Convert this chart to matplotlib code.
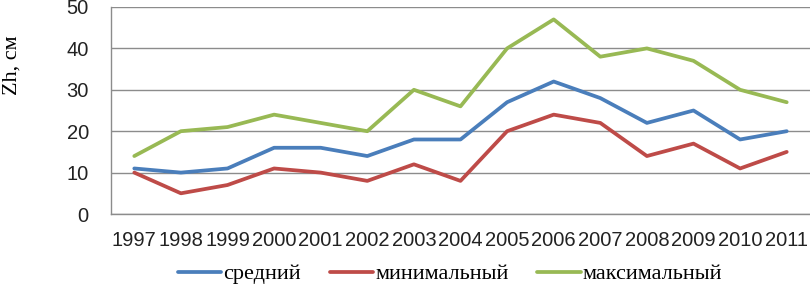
"""Zh (cm) by year: mean, minimum and maximum, 1997-2011."""
import matplotlib

matplotlib.use("Agg")
import matplotlib.pyplot as plt

YEARS = [str(y) for y in range(1997, 2012)]
MEAN = [11, 10, 11, 16, 16, 14, 18, 18, 27, 32, 28, 22, 25, 18, 20]
MIN = [10, 5, 7, 11, 10, 8, 12, 8, 20, 24, 22, 14, 17, 11, 15]
MAX = [14, 20, 21, 24, 22, 20, 30, 26, 40, 47, 38, 40, 37, 30, 27]

SERIES = [
    ("средний", MEAN, "#4a7ebb"),
    ("минимальный", MIN, "#be4b48"),
    ("максимальный", MAX, "#98b954"),
]

SANS = "Liberation Sans"
SERIF = "Liberation Serif"

fig = plt.figure(figsize=(8.1, 2.84), dpi=100)
ax = fig.add_axes([111 / 810, 1 - 214 / 284, 1 - 111 / 810, (214 - 7) / 284])

xs = range(len(YEARS))
for label, vals, color in SERIES:
    ax.plot(xs, vals, color=color, lw=2.7, label=label, solid_capstyle="round",
            solid_joinstyle="round")

ax.set_xlim(-0.5, len(YEARS) - 0.5)
ax.set_ylim(0, 50)
ax.set_yticks(range(0, 51, 10))
ax.set_xticks(list(xs))
ax.set_xticklabels(YEARS, fontfamily=SANS, fontsize=14.5)
for t in ax.get_yticklabels():
    t.set_fontfamily(SANS)
    t.set_fontsize(14.5)
ax.tick_params(axis="both", length=0, colors="#222222")
ax.tick_params(axis="y", pad=16)
ax.tick_params(axis="x", pad=12)
ax.grid(axis="y", color="#8c8c8c", lw=1)
ax.set_axisbelow(True)
for side in ("top", "right"):
    ax.spines[side].set_visible(False)
for side in ("left", "bottom"):
    ax.spines[side].set_color("#8c8c8c")
    ax.spines[side].set_linewidth(1)

fig.text(12 / 810, 1 - 65 / 284, "Zh, см", rotation=90, ha="center", va="center",
         fontfamily=SERIF, fontsize=16)

fig.legend(loc="center", bbox_to_anchor=(450 / 810, 1 - 274 / 284), ncol=3, frameon=False,
           prop={"family": SERIF, "size": 16}, handlelength=1.95, handletextpad=0.1,
           columnspacing=1.3, borderpad=0)

fig.savefig("out.png", dpi=100)
